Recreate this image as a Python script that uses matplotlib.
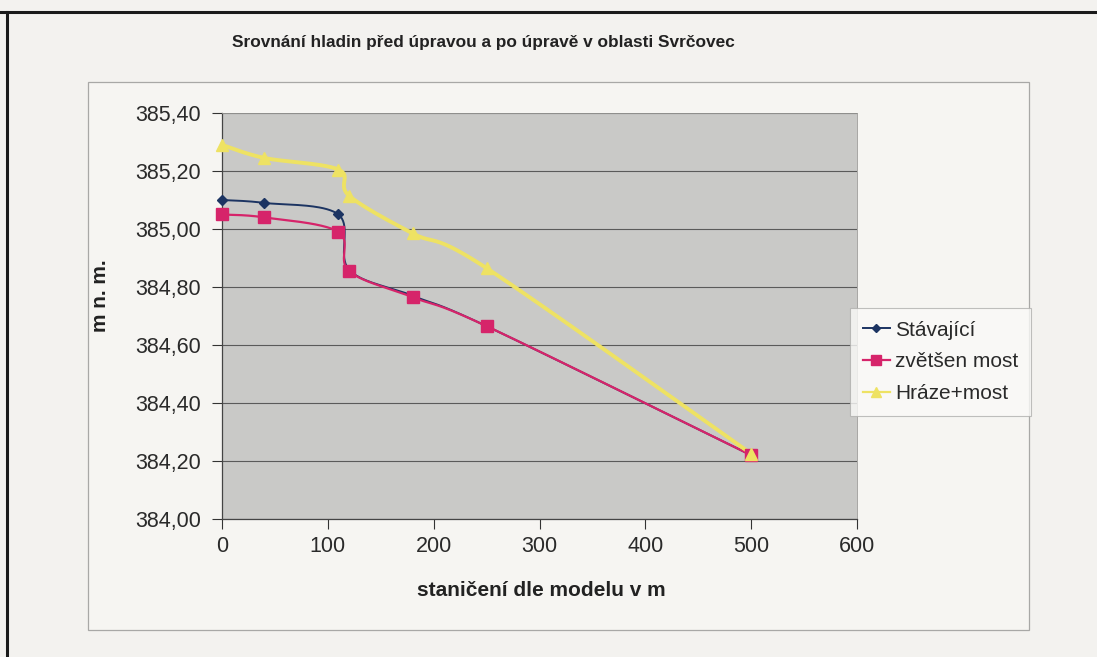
import numpy as np
import matplotlib.pyplot as plt
from matplotlib.lines import Line2D
from matplotlib.patches import Rectangle
from matplotlib.ticker import FuncFormatter, MultipleLocator

plt.rcParams['font.family'] = ['Liberation Sans', 'DejaVu Sans']

# staničení (m) a hladiny (m n. m.)
stav_x = [0, 40, 110, 120, 180, 250, 500]
stav_y = [385.10, 385.09, 385.05, 384.86, 384.77, 384.665, 384.22]

most_x = [0, 40, 110, 120, 180, 250, 500]
most_y = [385.05, 385.04, 384.99, 384.855, 384.765, 384.665, 384.22]

hraz_x = [0, 40, 110, 120, 180, 250, 500]
hraz_y = [385.29, 385.245, 385.205, 385.115, 384.985, 384.865, 384.225]

labels = ['Stávající', 'zvětšen most', 'Hráze+most']
colors = ['#1c3462', '#d6246a', '#eee263']


def smooth(x, y, n=40):
    # vyhlazená čára jako v Excelu (Bezierovy úseky)
    p = np.column_stack([x, y]).astype(float)
    p_ext = np.vstack([p[0], p, p[-1]])
    out = []
    for i in range(len(p) - 1):
        a, b = p_ext[i + 1], p_ext[i + 2]
        c1 = a + (p_ext[i + 2] - p_ext[i]) / 6
        c2 = b - (p_ext[i + 3] - p_ext[i + 1]) / 6
        t = np.linspace(0, 1, n)[:, None]
        seg = ((1 - t) ** 3) * a + 3 * ((1 - t) ** 2) * t * c1 + 3 * (1 - t) * t ** 2 * c2 + t ** 3 * b
        out.append(seg)
    s = np.vstack(out)
    return s[:, 0], s[:, 1]


fig = plt.figure(figsize=(10.97, 6.57), dpi=100, facecolor='#f3f2ef')

# rámeček grafu
frame = Rectangle((88 / 1097, 1 - 630 / 657), (1029 - 88) / 1097, (630 - 82) / 657,
                  transform=fig.transFigure, fill=True, facecolor='#f6f5f2',
                  edgecolor='#a8a8a6', lw=0.9, zorder=-5)
fig.add_artist(frame)
fig.add_artist(Line2D([0, 1], [1 - 12 / 657, 1 - 12 / 657], transform=fig.transFigure,
                      color='#1a1a1a', lw=2.2, zorder=-4))
fig.add_artist(Line2D([7 / 1097, 7 / 1097], [0, 1 - 12 / 657], transform=fig.transFigure,
                      color='#1a1a1a', lw=2.2, zorder=-4))

ax = fig.add_axes([222 / 1097, 1 - 519 / 657, (857 - 222) / 1097, 406 / 657])
ax.set_zorder(1)
ax.set_facecolor('#c9c9c7')

series = [(stav_x, stav_y, 'D', 5.5, 1.4), (most_x, most_y, 's', 9, 1.6), (hraz_x, hraz_y, '^', 8.5, 2.8)]
handles = []
for (x, y, m, ms, lw), lab, col in zip(series, labels, colors):
    sx, sy = smooth(x, y)
    ax.plot(sx, sy, color=col, lw=lw, zorder=3, clip_on=False)
    ax.plot(x, y, linestyle='none', marker=m, ms=ms, color=col, zorder=4, clip_on=False)
    handles.append(Line2D([], [], color=col, lw=min(lw, 1.6), marker=m, ms=ms * 0.8, label=lab))

ax.set_xlim(0, 600)
ax.set_ylim(384.0, 385.4)
ax.xaxis.set_major_locator(MultipleLocator(100))
ax.yaxis.set_major_locator(MultipleLocator(0.2))
ax.yaxis.set_major_formatter(FuncFormatter(lambda v, p: f'{v:.2f}'.replace('.', ',')))
ax.grid(axis='y', color='#5a5a5a', lw=0.8)
ax.set_axisbelow(True)
ax.tick_params(axis='both', labelsize=15.5, colors='#333333', length=7, width=0.8,
               direction='out', labelcolor='#2a2a2a')
ax.tick_params(axis='x', pad=5)
ax.tick_params(axis='y', pad=8)
for side in ['left', 'bottom']:
    ax.spines[side].set_color('#444444')
    ax.spines[side].set_linewidth(0.9)
for side in ['top', 'right']:
    ax.spines[side].set_color('#9a9a98')
    ax.spines[side].set_linewidth(0.6)

fig.text(483 / 1097, 1 - 42 / 657, 'Srovnání hladin před úpravou a po úpravě v oblasti Svrčovec',
         ha='center', va='center', fontsize=12.4, fontweight='bold', color='#222222')
fig.text(541 / 1097, 1 - 591 / 657, 'staničení dle modelu v m', ha='center', va='center',
         fontsize=15, fontweight='bold', color='#222222')
fig.text(101 / 1097, 1 - 296 / 657, 'm n. m.', ha='center', va='center', rotation=90,
         fontsize=15, fontweight='bold', color='#222222')

leg = fig.legend(handles=handles, loc='upper left', bbox_to_anchor=(850 / 1097, 1 - 308 / 657),
                 fontsize=15, frameon=True, fancybox=False, handlelength=1.3, handletextpad=0.25,
                 borderpad=0.6, labelspacing=0.62, borderaxespad=0)
leg.set_zorder(5)
leg.get_frame().set_facecolor('#fafaf8')
leg.get_frame().set_edgecolor('#b0b0ae')
leg.get_frame().set_linewidth(0.8)
for t in leg.get_texts():
    t.set_color('#2a2a2a')

fig.savefig('out.png', dpi=100, facecolor=fig.get_facecolor())
